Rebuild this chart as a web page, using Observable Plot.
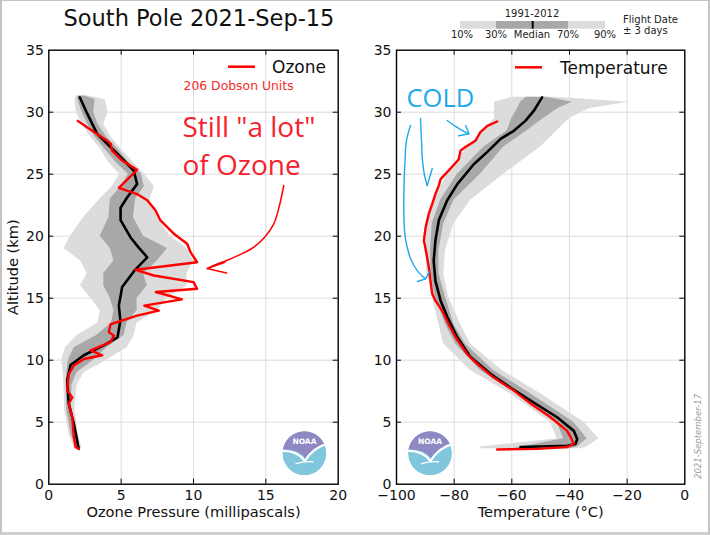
<!DOCTYPE html>
<html><head><meta charset="utf-8">
<script src="https://cdn.jsdelivr.net/npm/d3@7"></script>
<script src="https://cdn.jsdelivr.net/npm/@observablehq/plot@0.6"></script>
<style>
body{margin:0;background:#fff;}
#wrap{position:relative;width:710px;height:535px;overflow:hidden;font-family:"DejaVu Sans";background:#fff;}
#wrap > svg{position:absolute;top:0;}
#border{position:absolute;left:0;top:0;width:710px;height:535px;box-sizing:border-box;border:2px solid #c4c4c4;border-top-width:1px;border-bottom:3px solid #cfcfcf;pointer-events:none;}
</style></head><body><div id="wrap"></div>
<script>
// ---------- tick labels ----------
const altTicks = [0, 5, 10, 15, 20, 25, 30, 35];
const ozTicks = [0, 5, 10, 15, 20];
const tempTicks = [-100, -80, -60, -40, -20, 0];

// ---------- Ozone panel (mPa vs km) ----------
const ozoneAlt = [2.85,3.0,3.8,5.4,6.5,7.0,7.55,8.9,9.57,10.1,10.4,10.8,11.45,12.0,12.25,12.9,13.6,14.0,14.4,14.9,15.5,15.76,16.3,16.83,17.29,17.9,18.7,19.39,20.2,21.3,22.1,22.9,23.4,23.9,25.35,26.1,26.9,27.45,27.7,28.5,29.3];
const ozoneVal = [2.07,1.85,1.73,1.62,1.38,1.62,1.27,1.38,1.73,2.42,3.69,2.88,4.27,4.5,4.15,4.27,6.1,7.6,6.6,9.2,7.4,10.25,10.0,7.26,6.0,10.25,9.8,9.56,8.64,7.7,7.37,6.8,6.1,4.84,6.1,5.07,4.38,4.27,4.03,3.0,2.0];

const ozMedAlt = [2.85,4.9,6.5,8.4,9.6,10.4,11.2,11.85,13.2,14.4,15.9,17.2,18.3,19.1,19.9,21.3,22.3,23.1,24.2,25.3,26.65,28.25,29.9,31.2];
const ozMedVal = [2.07,1.73,1.38,1.27,1.5,2.42,3.8,4.75,4.95,4.84,5.07,5.9,6.8,6.2,5.65,4.96,4.96,5.4,6.1,5.87,4.73,3.34,2.65,2.14];

const ozBandAlt = [2.85,4,6,8,9,10,11,12,13,14,15,16,17,18,19,20,21.5,23,24,25,26,27,28,29,30,31,31.3];
const ozP10 = [1.8,1.4,1.1,1.05,1.0,0.9,1.15,1.95,3.4,3.55,2.9,2.2,2.65,2.2,1.05,1.5,2.4,3.55,4.4,4.9,4.1,3.6,2.9,2.3,1.9,1.8,1.9];
const ozP30 = [1.95,1.55,1.25,1.2,1.25,1.35,1.75,3.3,4.35,4.5,4.25,3.8,3.8,4.5,4.25,3.55,4.15,4.25,5.0,5.5,4.6,3.9,3.2,2.7,2.3,2.0,2.0];
const ozP70 = [2.15,1.85,1.55,1.6,1.95,3.1,4.0,5.2,5.4,6.1,6.1,6.8,6.55,7.5,8.2,6.55,5.85,6.0,6.6,6.4,5.5,4.8,4.0,3.4,3.1,3.2,2.5];
const ozP90 = [2.3,2.05,1.8,1.95,2.45,4.0,5.4,5.9,6.1,7.5,8.2,9.55,9.55,10.0,9.55,8.4,7.5,7.0,7.3,6.6,5.8,5.0,4.3,3.8,4.1,3.9,2.8];

// ---------- Temperature panel (°C vs km) ----------
const tempAlt = [2.8,2.85,3.0,3.25,3.8,4.3,5.4,6.5,7.55,8.6,9.7,10.5,11.85,12.9,14.0,14.8,15.35,16.4,17.5,18.6,19.65,20.7,21.8,22.6,23.4,24.1,24.6,25.3,26.2,26.9,27.2,27.7,28.4,28.9,29.25];
const tempVal = [-65.1,-51.2,-40.8,-38.5,-39.6,-40.8,-46.6,-53.5,-59.3,-66.3,-72.0,-75.5,-79.5,-81.9,-84.2,-86.5,-87.6,-88.2,-88.8,-89.6,-90.5,-89.9,-88.8,-87.6,-86.5,-85.3,-84.7,-81.9,-78.4,-77.8,-76.1,-72.6,-70.9,-68.5,-65.1];

const tMedAlt = [3.0,3.1,3.25,3.65,4.3,5.4,6.75,7.8,8.9,10.25,11.85,13.5,14.8,16.4,18.0,19.65,21.3,22.9,24.2,25.8,26.8,27.85,28.5,29.3,30.1,31.2];
const tMedVal = [-57,-40.8,-37.9,-37.3,-38.5,-44.3,-53.5,-60.5,-67.4,-74.3,-78.9,-82.4,-84.7,-86.5,-87.1,-86.5,-85.3,-82.4,-78.9,-73.2,-68.5,-63.9,-59.3,-55.3,-52.4,-49.5];

const tBandAlt = [2.85,3.0,3.66,5.0,7.3,9.17,11.3,12.9,15.1,17.0,18.85,21.0,22.9,25.0,27.2,28.5,29.5,30.3,30.8,31.2];
const tP10 = [-71,-70.9,-44.3,-46.6,-60.5,-74.3,-83.6,-85.3,-87.6,-89.4,-89.9,-89.4,-87.1,-82.4,-75.5,-69.7,-66,-66,-66,-60];
const tP30 = [-60,-57,-42,-44.3,-58.1,-70.9,-79.5,-83.0,-86.5,-88,-88.2,-87.6,-84.7,-78.9,-69.7,-61.6,-60,-58,-57,-55];
const tP70 = [-40,-37.3,-33.9,-38.5,-53.5,-66.3,-76.1,-80.1,-83,-85.3,-85.3,-83.6,-80.1,-70.9,-62.8,-54.7,-49,-44,-39,-48];
const tP90 = [-36,-33.9,-29.8,-35,-50.0,-63.3,-74.3,-77.8,-81.9,-83.6,-83.0,-80.1,-74.3,-62.8,-50,-44.3,-40,-33,-19.4,-45];

// ---------- annotations (data units) ----------
const ozArrowX = [16.24,15.94,15.55,14.9,14.17,13.25,12.33,11.52,10.95];
const ozArrowY = [24.09,22.48,21.0,19.9,19.12,18.53,18.06,17.7,17.39];
const ozHeadX = [12.17,10.95,12.28];
const ozHeadY = [17.9,17.39,17.03];
const coldA_X = [-95.14,-96.53,-97.05,-97.47,-97.05,-96.29,-95.14,-92.82,-89.94];
const coldA_Y = [28.93,27.72,26.1,22.07,20.06,19.11,18.2,17.23,16.56];
const coldAHeadX = [-88.6,-89.94,-92.7];
const coldAHeadY = [17.15,16.56,16.35];
const coldB_X = [-91.67,-91.33,-90.98,-90.29,-89.35];
const coldB_Y = [29.47,27.72,26.1,24.9,24.09];
const coldBHeadX = [-87.62,-89.35];
const coldBHeadY = [25.44,24.09];
const coldC_X = [-82.4,-79.5,-77.1,-74.9];
const coldC_Y = [29.33,28.85,28.52,28.26];
const coldCHeadX = [-76.0,-74.9,-78.4];
const coldCHeadY = [28.92,28.26,28.1];

const FONT = "DejaVu Sans";
const RED = "#ff0000";
const CYAN = "#1ea9ee";
const LIGHT = "#dcdcdc", DARK = "#a8a8a8";
const TICK = 5; // inward tick length (px)

const zip2 = (a, b) => a.map((v, i) => ({y: v, x: b[i]}));
const bandRows = (alt, p10, p30, p70, p90) => alt.map((a, i) => ({alt: a, p10: p10[i], p30: p30[i], p70: p70[i], p90: p90[i]}));

function noaaLogo(id, xv, yv) {
  return (index, scales) => {
    const cx = scales.x(xv), cy = scales.y(yv), r = 22;
    const g = d3.create("svg:g").attr("transform", `translate(${cx},${cy})`);
    g.append("clipPath").attr("id", id).append("circle").attr("r", r);
    const c = g.append("g").attr("clip-path", `url(#${id})`);
    c.append("circle").attr("r", r).attr("fill", "#80c6dd");
    c.append("path").attr("d", "M-24,-24H24V-9C14,-8 6,-3 1,5C-4,-2 -12,-4 -24,-4Z").attr("fill", "#8f89c3");
    c.append("path").attr("d", "M-23,-2.5C-12,-3 -5,0 0.5,7.5C6,-1 13,-7 23,-9.5").attr("fill", "none").attr("stroke", "#fff").attr("stroke-width", 2.2);
    c.append("path").attr("d", "M-9,10.5C-3,8.5 3,8 9,8.5").attr("fill", "none").attr("stroke", "#fff").attr("stroke-width", 1.4);
    g.append("text").attr("y", -9).attr("text-anchor", "middle").attr("font-size", 7.5).attr("font-weight", "bold")
      .attr("font-family", FONT).attr("fill", "#fff").text("NOAA");
    return g.node();
  };
}

function panel({width, marginLeft, marginRight, xDomain, xTicks, marks}) {
  const H = 535, mT = 49.7, mB = 51.3;
  const fw = width - marginLeft - marginRight, fh = H - mT - mB;
  const inX = xTicks.slice(1, -1), inY = altTicks.slice(1, -1);
  return Plot.plot({
    width, height: H,
    marginLeft, marginRight, marginTop: mT, marginBottom: mB,
    x: {domain: xDomain, axis: null},
    y: {domain: [0, 35], axis: null},
    style: {fontFamily: FONT, fontSize: "14px", color: "#111", background: "transparent", overflow: "visible"},
    marks: [
      Plot.gridX(inX, {stroke: "#dcdcdc", strokeOpacity: 1}),
      Plot.gridY(inY, {stroke: "#dcdcdc", strokeOpacity: 1}),
      ...marks,
      // inward ticks on all four sides (matplotlib classic)
      Plot.tickX(inX, {x: d => d, insetTop: fh - TICK, stroke: "#000"}),
      Plot.tickX(inX, {x: d => d, insetBottom: fh - TICK, stroke: "#000"}),
      Plot.tickY(inY, {y: d => d, insetRight: fw - TICK, stroke: "#000"}),
      Plot.tickY(inY, {y: d => d, insetLeft: fw - TICK, stroke: "#000"}),
      Plot.axisX(xTicks, {anchor: "bottom", tickSize: 0, tickPadding: 6, label: null, fontSize: 14}),
      Plot.axisY(altTicks, {anchor: "left", tickSize: 0, tickPadding: 5, label: null, fontSize: 14}),
      Plot.frame({stroke: "#000", strokeWidth: 1.4})
    ]
  });
}

const ozBands = bandRows(ozBandAlt, ozP10, ozP30, ozP70, ozP90);
const tBands = bandRows(tBandAlt, tP10, tP30, tP70, tP90);

const left = panel({
  width: 355, marginLeft: 48.3, marginRight: 17.3, xDomain: [0, 20], xTicks: ozTicks,
  marks: [
    Plot.areaX(ozBands, {y: "alt", x1: "p10", x2: "p90", fill: LIGHT}),
    Plot.areaX(ozBands, {y: "alt", x1: "p30", x2: "p70", fill: DARK}),
    Plot.line(zip2(ozMedAlt, ozMedVal), {x: "x", y: "y", stroke: "#000", strokeWidth: 2.6}),
    Plot.line(zip2(ozoneAlt, ozoneVal), {x: "x", y: "y", stroke: RED, strokeWidth: 2.4, strokeLinejoin: "round"}),
    Plot.line(zip2(ozArrowY, ozArrowX), {x: "x", y: "y", stroke: RED, strokeWidth: 1.5, curve: "catmull-rom"}),
    Plot.line(zip2(ozHeadY, ozHeadX), {x: "x", y: "y", stroke: RED, strokeWidth: 1.5}),
    Plot.text(["206 Dobson Units"], {x: [9.31], y: [31.83], textAnchor: "start", lineAnchor: "bottom", fill: "#f52a2a", fontSize: 12.4}),
    Plot.text(['Still "a lot"'], {x: [9.24], y: [27.96], textAnchor: "start", lineAnchor: "bottom", fill: "#f5222d", fontSize: 28, fontFamily: "Open Sans"}),
    Plot.text(["of Ozone"], {x: [9.24], y: [24.9], textAnchor: "start", lineAnchor: "bottom", fill: "#f5222d", fontSize: 28, fontFamily: "Open Sans"}),
    noaaLogo("noaaL", 17.7, 2.45),
    Plot.text(["Ozone Pressure (millipascals)"], {frameAnchor: "bottom", dy: 33, lineAnchor: "bottom", fontSize: 14.6}),
    Plot.text(["Altitude (km)"], {frameAnchor: "left", dx: -35, rotate: -90, textAnchor: "middle", fontSize: 14.6})
  ]
});
left.style.left = "0px";

const right = panel({
  width: 355, marginLeft: 41, marginRight: 25.7, xDomain: [-100, 0], xTicks: tempTicks,
  marks: [
    Plot.areaX(tBands, {y: "alt", x1: "p10", x2: "p90", fill: LIGHT}),
    Plot.areaX(tBands, {y: "alt", x1: "p30", x2: "p70", fill: DARK}),
    Plot.line(zip2(tMedAlt, tMedVal), {x: "x", y: "y", stroke: "#000", strokeWidth: 2.6}),
    Plot.line(zip2(tempAlt, tempVal), {x: "x", y: "y", stroke: RED, strokeWidth: 2.4, strokeLinejoin: "round"}),
    Plot.line(zip2(coldA_Y, coldA_X), {x: "x", y: "y", stroke: CYAN, strokeWidth: 1.4, curve: "catmull-rom"}),
    Plot.line(zip2(coldAHeadY, coldAHeadX), {x: "x", y: "y", stroke: CYAN, strokeWidth: 1.4}),
    Plot.line(zip2(coldB_Y, coldB_X), {x: "x", y: "y", stroke: CYAN, strokeWidth: 1.4, curve: "catmull-rom"}),
    Plot.line(zip2(coldBHeadY, coldBHeadX), {x: "x", y: "y", stroke: CYAN, strokeWidth: 1.4}),
    Plot.line(zip2(coldC_Y, coldC_X), {x: "x", y: "y", stroke: CYAN, strokeWidth: 1.4, curve: "catmull-rom"}),
    Plot.line(zip2(coldCHeadY, coldCHeadX), {x: "x", y: "y", stroke: CYAN, strokeWidth: 1.4}),
    Plot.text(["COLD"], {x: [-96.53], y: [30.4], textAnchor: "start", lineAnchor: "bottom", fill: CYAN, fontSize: 25.5, fontFamily: "Open Sans"}),
    noaaLogo("noaaR", -88.2, 2.45),
    Plot.text(["Temperature (°C)"], {frameAnchor: "bottom", dy: 33, lineAnchor: "bottom", fontSize: 14.6}),
    Plot.text(["2021-September-17"], {y: [3.85], frameAnchor: "right", dx: 13, rotate: -90, textAnchor: "middle", fontSize: 8.5, fontStyle: "italic", fill: "#9a9a9a"})
  ]
});
right.style.left = "355px";

const wrap = document.getElementById("wrap");
wrap.append(left, right);

// ---------- title and legends ----------
const hdr = d3.create("svg").attr("width", 710).attr("height", 535)
  .style("left", "0px").style("pointer-events", "none").attr("font-family", FONT);
hdr.append("text").attr("x", 199).attr("y", 26).attr("text-anchor", "middle").attr("font-size", 22.5).attr("fill", "#111").text("South Pole 2021-Sep-15");

const pctLabels = ["10%", "30%", "Median", "70%", "90%"];
const pctX = [462, 496, 532, 568, 605];
hdr.append("text").attr("x", 532).attr("y", 16.7).attr("text-anchor", "middle").attr("font-size", 10).attr("fill", "#222").text("1991-2012");
hdr.append("rect").attr("x", 460).attr("y", 21).attr("width", 145).attr("height", 7.7).attr("fill", LIGHT);
hdr.append("rect").attr("x", 496).attr("y", 21).attr("width", 72).attr("height", 7.7).attr("fill", DARK);
hdr.append("rect").attr("x", 531.7).attr("y", 21).attr("width", 2).attr("height", 7.7).attr("fill", "#000");
pctLabels.forEach((t, i) => hdr.append("text").attr("x", pctX[i]).attr("y", 38).attr("text-anchor", "middle").attr("font-size", 10).attr("fill", "#222").text(t));
hdr.append("text").attr("x", 623).attr("y", 22.5).attr("font-size", 10).attr("fill", "#222").text("Flight Date");
hdr.append("text").attr("x", 623).attr("y", 33.5).attr("font-size", 10).attr("fill", "#222").text("± 3 days");

hdr.append("line").attr("x1", 228).attr("x2", 255).attr("y1", 66.7).attr("y2", 66.7).attr("stroke", RED).attr("stroke-width", 2.5);
hdr.append("text").attr("x", 272).attr("y", 73.3).attr("font-size", 17).attr("fill", "#111").text("Ozone");
hdr.append("line").attr("x1", 515).attr("x2", 542).attr("y1", 67.3).attr("y2", 67.3).attr("stroke", RED).attr("stroke-width", 2.5);
hdr.append("text").attr("x", 560).attr("y", 73.6).attr("font-size", 17).attr("fill", "#111").text("Temperature");
wrap.append(hdr.node());

const border = document.createElement("div");
border.id = "border";
wrap.append(border);
</script></body></html>
